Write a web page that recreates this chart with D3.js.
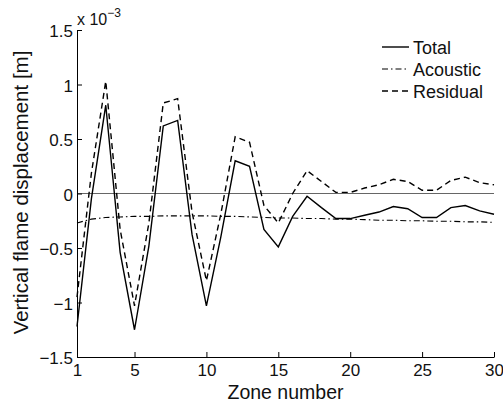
<!DOCTYPE html>
<html>
<head>
<meta charset="utf-8">
<script src="https://cdn.jsdelivr.net/npm/d3@7"></script>
<style>
  body { margin: 0; background: #fff; }
  svg text { font-family: "Liberation Sans", Arial, Helvetica, sans-serif; fill: #111; }
</style>
</head>
<body>
<div id="chart"></div>
<script>
/* flame displacement per zone (values in 1e-3 m) */

const zones = d3.range(1, 31);
const total = [-1.22, -0.05, 0.81, -0.54, -1.25, -0.48, 0.62, 0.67, -0.375, -1.03,
  -0.40, 0.30, 0.25, -0.33, -0.49, -0.21, -0.025, -0.13, -0.23, -0.23,
  -0.20, -0.17, -0.12, -0.14, -0.22, -0.22, -0.13, -0.11, -0.16, -0.19];
const acoustic = [-0.27, -0.235, -0.22, -0.215, -0.21, -0.21, -0.205, -0.205, -0.205, -0.205,
  -0.21, -0.21, -0.215, -0.22, -0.225, -0.225, -0.23, -0.23, -0.235, -0.235,
  -0.24, -0.245, -0.245, -0.25, -0.25, -0.255, -0.255, -0.26, -0.26, -0.265];
const residual = [-0.95, 0.185, 1.03, -0.33, -1.03, -0.27, 0.83, 0.87, -0.17, -0.80,
  -0.19, 0.52, 0.47, -0.11, -0.27, 0.0, 0.21, 0.11, 0.01, 0.01,
  0.05, 0.08, 0.13, 0.11, 0.03, 0.03, 0.12, 0.15, 0.10, 0.08];
const seriesNames = ["Total", "Acoustic", "Residual"];
const xTicks = [1, 5, 10, 15, 20, 25, 30];
const yTicks = [-1.5, -1, -0.5, 0, 0.5, 1, 1.5];

var W = 503, H = 405;
var margin = {top: 30, right: 9, bottom: 48, left: 77};

var svg = d3.select("#chart").append("svg")
  .attr("width", W).attr("height", H);

var x = d3.scaleLinear().domain([1, 30]).range([margin.left, W - margin.right]);
var y = d3.scaleLinear().domain([-1.5, 1.5]).range([H - margin.bottom, margin.top]);

// zero reference line
svg.append("line")
  .attr("x1", x(1)).attr("x2", x(30))
  .attr("y1", y(0)).attr("y2", y(0))
  .attr("stroke", "#666").attr("stroke-width", 1);

var fmt = d => d < 0 ? "\u2212" + Math.abs(d) : String(d);

var gx = svg.append("g")
  .attr("transform", "translate(0," + y(-1.5) + ")")
  .call(d3.axisBottom(x).tickValues(xTicks).tickSizeInner(-5).tickSizeOuter(0).tickPadding(7));
var gy = svg.append("g")
  .attr("transform", "translate(" + x(1) + ",0)")
  .call(d3.axisLeft(y).tickValues(yTicks).tickFormat(fmt).tickSizeInner(-5).tickSizeOuter(0).tickPadding(4));

[gx, gy].forEach(g => {
  g.selectAll("text").attr("font-size", 17).attr("fill", "#111")
    .style("font-family", "'Liberation Sans', Arial, sans-serif");
  g.selectAll("line").attr("stroke", "#000");
  g.select(".domain").attr("stroke", "#000");
});
gy.selectAll("text").attr("dy", "0.4em");

var styles = {
  Total: {dash: null, width: 1.4},
  Acoustic: {dash: "6,3,1.5,3", width: 1.1},
  Residual: {dash: "6,4", width: 1.4}
};
var data = {Total: total, Acoustic: acoustic, Residual: residual};

var line = d3.line().x((d, i) => x(zones[i])).y(d => y(d));

seriesNames.forEach(name => {
  svg.append("path")
    .datum(data[name])
    .attr("d", line)
    .attr("fill", "none")
    .attr("stroke", "#000")
    .attr("stroke-width", styles[name].width)
    .attr("stroke-dasharray", styles[name].dash);
});

// legend
var leg = svg.append("g").attr("transform", "translate(382,47)");
seriesNames.forEach((name, i) => {
  var gy0 = i * 22;
  leg.append("line")
    .attr("x1", 0).attr("x2", 27).attr("y1", gy0).attr("y2", gy0)
    .attr("stroke", "#000")
    .attr("stroke-width", styles[name].width)
    .attr("stroke-dasharray", styles[name].dash);
  leg.append("text")
    .attr("x", 31).attr("y", gy0 + 6.5)
    .attr("font-size", 18)
    .text(name);
});

// axis labels
svg.append("text")
  .attr("x", (x(1) + x(30)) / 2).attr("y", 399)
  .attr("text-anchor", "middle").attr("font-size", 19.5)
  .text("Zone number");

svg.append("text")
  .attr("transform", "translate(27.5,192.5) rotate(-90)")
  .attr("text-anchor", "middle").attr("font-size", 20.5)
  .text("Vertical flame displacement [m]");

// exponent
var ex = svg.append("text").attr("x", 77).attr("y", 25).attr("font-size", 16);
ex.append("tspan").text("x 10");
ex.append("tspan").attr("dy", -8).attr("font-size", 12).text("\u22123");
</script>
</body>
</html>
